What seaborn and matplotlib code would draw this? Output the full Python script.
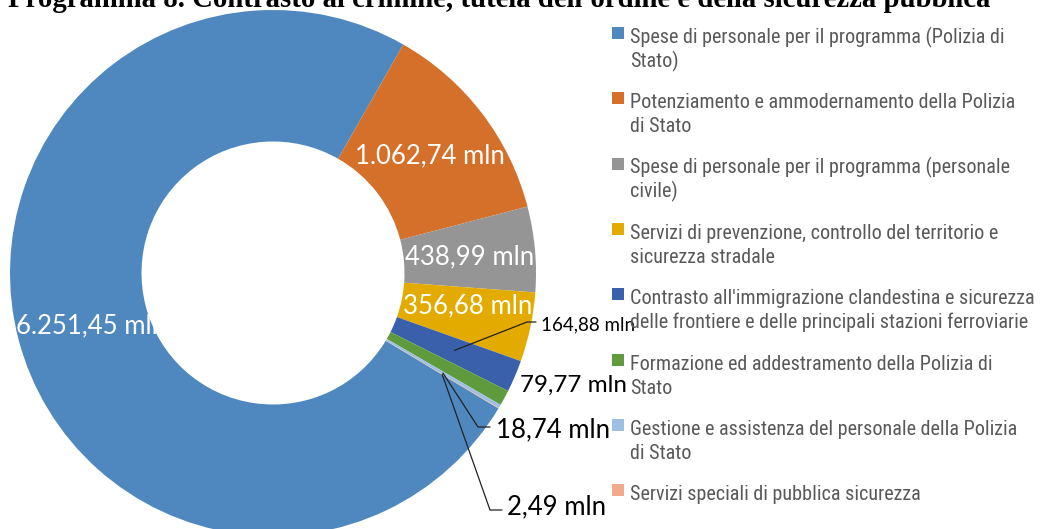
import matplotlib
matplotlib.use('Agg')
import matplotlib.pyplot as plt
import seaborn as sns
import numpy as np
from matplotlib import font_manager
from matplotlib.patches import Rectangle

sns.set_theme(style='white')
plt.rcParams['font.family'] = ['Lato', 'DejaVu Sans']

# Dati
titolo = "Programma 8. Contrasto al crimine, tutela dell'ordine e della sicurezza pubblica"
voci = [
    "Spese di personale per il programma (Polizia di\nStato)",
    "Potenziamento e ammodernamento della Polizia\ndi Stato",
    "Spese di personale per il programma (personale\ncivile)",
    "Servizi di prevenzione, controllo del territorio e\nsicurezza stradale",
    "Contrasto all'immigrazione clandestina e sicurezza\ndelle frontiere e delle principali stazioni ferroviarie",
    "Formazione ed addestramento della Polizia di\nStato",
    "Gestione e assistenza del personale della Polizia\ndi Stato",
    "Servizi speciali di pubblica sicurezza",
]
valori = [6251.45, 1062.74, 438.99, 356.68, 164.88, 79.77, 18.74, 2.49]
etichette = ['6.251,45 mln', '1.062,74 mln', '438,99 mln', '356,68 mln',
             '164,88 mln', '79,77 mln', '18,74 mln', '2,49 mln']
colori = sns.color_palette(['#4E88BE', '#D5702B', '#959595', '#E3AA00',
                            '#3A60AB', '#5F9B3C', '#9DC0E4', '#F3AA8C'])

# Posizioni (pixel immagine: x, baseline y)
pos_etichette = [(91, 333), (430, 163), (470, 264), (468, 313),
                 (588, 330), (573, 392), (553, 437), (557, 514)]
col_etichette = ['white'] * 4 + ['black'] * 4
dim_etichette = [18.5, 18.5, 18.5, 18.5, 13.5, 17.5, 18.5, 18.5]
# gomiti delle linee guida: indice fetta -> (x gomito, y gomito, x fine)
guide = {4: (527, 322, 536), 6: (478, 427, 490), 7: (490, 510, 502)}

H = 529

# font stretto per la legenda (tipo Arial Narrow), se presente
file_font = [f.fname for f in font_manager.fontManager.ttflist]
fp_leg = None
for chiave, dim in [('LiberationSansNarrow-Regular', 15.5), ('RobotoCondensed-Regular', 14.5),
                    ('DejaVuSansCondensed.ttf', 13.5)]:
    trovati = [f for f in file_font if chiave in f]
    if trovati:
        fp_leg = font_manager.FontProperties(fname=trovati[0], size=dim)
        break
if fp_leg is None:
    fp_leg = font_manager.FontProperties(family='Liberation Sans', size=13.5)

fig = plt.figure(figsize=(10.48, 5.29), dpi=100)
ax = fig.add_axes([0, 0, 1, 1])

cx, cy, R = 273, H - 273, 263
wedges, _ = ax.pie(valori, colors=colori, startangle=-31, counterclock=False,
                   center=(cx, cy), radius=R,
                   wedgeprops=dict(width=R * 0.5, linewidth=0))
ax.set_xlim(0, 1048)
ax.set_ylim(0, H)
ax.set_aspect('equal')
ax.axis('off')

# etichette dati
for i, (txt, (x, y)) in enumerate(zip(etichette, pos_etichette)):
    ax.text(x, H - y, txt, ha='center', va='baseline', color=col_etichette[i],
            fontsize=dim_etichette[i])

# linee guida
for i, (ex, ey, fx) in guide.items():
    w = wedges[i]
    ang = np.deg2rad((w.theta1 + w.theta2) / 2)
    ax0 = cx + 0.75 * R * np.cos(ang)
    ay0 = cy + 0.75 * R * np.sin(ang)
    ax.plot([ax0, ex, fx], [ay0, H - ey, H - ey], color='#222222', lw=0.9)

# titolo (tagliato in alto come nell'originale)
ax.text(499, H - 7, titolo, ha='center', va='baseline', fontsize=20.7,
        fontweight='bold', family='Liberation Serif', color='black', clip_on=False)

# legenda
for i, (voce, col) in enumerate(zip(voci, colori)):
    yb = 43 + 65.3 * i
    ax.add_patch(Rectangle((612, H - yb + 4), 12, 12, color=col, lw=0))
    for k, riga in enumerate(voce.split('\n')):
        ax.text(630, H - (yb + 24 * k), riga, ha='left', va='baseline',
                fontproperties=fp_leg, color='#595959')

fig.savefig('out.png', dpi=100)
